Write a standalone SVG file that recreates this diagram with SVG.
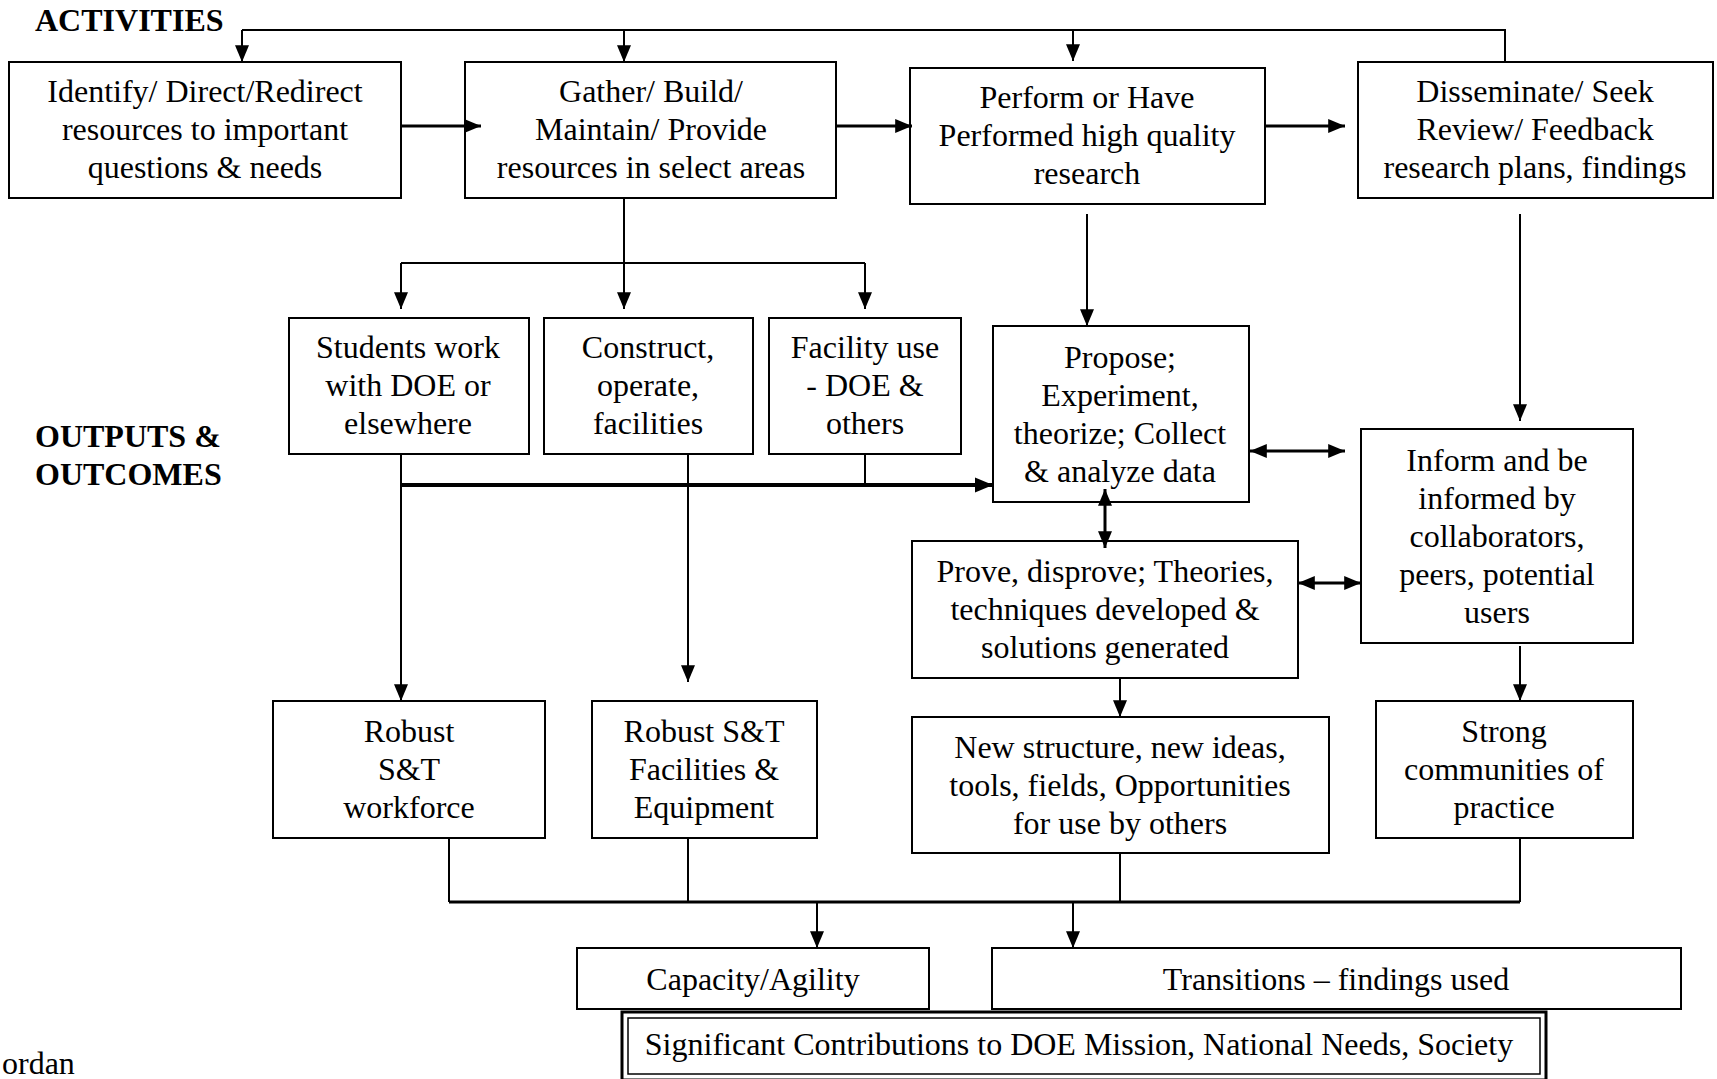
<svg xmlns="http://www.w3.org/2000/svg" width="1717" height="1079" viewBox="0 0 1717 1079">
  <style>
    .box { fill: #fff; stroke: #000; stroke-width: 2; }
    .t { font-family: "Liberation Serif", "Times New Roman", serif; font-size: 32px; fill: #000; text-anchor: middle; }
    .hd { font-family: "Liberation Serif", "Times New Roman", serif; font-size: 32px; font-weight: bold; fill: #000; }
    .ln { fill: none; stroke: #000; stroke-width: 2; }
    .arr { fill: none; stroke: #000; stroke-width: 2; marker-end: url(#ah); }
    .thick { fill: none; stroke: #000; stroke-width: 4; marker-end: url(#ahb); }
    .dbl { fill: none; stroke: #000; stroke-width: 3; marker-start: url(#ah); marker-end: url(#ah); }
  </style>
  <defs>
    <marker id="ah" viewBox="0 0 12 10" refX="12" refY="5" markerWidth="17" markerHeight="14" markerUnits="userSpaceOnUse" orient="auto-start-reverse">
      <path d="M0,0 L12,5 L0,10 z" fill="#000"/>
    </marker>
    <marker id="ahb" viewBox="0 0 12 10" refX="12" refY="5" markerWidth="18" markerHeight="16" markerUnits="userSpaceOnUse" orient="auto">
      <path d="M0,0 L12,5 L0,10 z" fill="#000"/>
    </marker>
  </defs>
  <rect width="1717" height="1079" fill="#fff"/>

  <!-- section headings -->
  <text class="hd" x="35" y="31">ACTIVITIES</text>
  <text class="hd" x="35" y="447">OUTPUTS &amp;</text>
  <text class="hd" x="35" y="485">OUTCOMES</text>
  <text class="t" x="2" y="1074" style="text-anchor:start">ordan</text>

  <!-- activities -->
  <g id="identify">
    <rect class="box" x="9" y="62" width="392" height="136"/>
    <text class="t" x="205" y="102">Identify/ Direct/Redirect</text>
    <text class="t" x="205" y="140">resources to important</text>
    <text class="t" x="205" y="178">questions &amp; needs</text>
  </g>
  <g id="gather">
    <rect class="box" x="465" y="62" width="371" height="136"/>
    <text class="t" x="651" y="102">Gather/ Build/</text>
    <text class="t" x="651" y="140">Maintain/ Provide</text>
    <text class="t" x="651" y="178">resources in select areas</text>
  </g>
  <g id="perform">
    <rect class="box" x="910" y="68" width="355" height="136"/>
    <text class="t" x="1087" y="108">Perform or Have</text>
    <text class="t" x="1087" y="146">Performed high quality</text>
    <text class="t" x="1087" y="184">research</text>
  </g>
  <g id="disseminate">
    <rect class="box" x="1358" y="62" width="355" height="136"/>
    <text class="t" x="1535" y="102">Disseminate/ Seek</text>
    <text class="t" x="1535" y="140">Review/ Feedback</text>
    <text class="t" x="1535" y="178">research plans, findings</text>
  </g>

  <!-- outputs -->
  <g id="students">
    <rect class="box" x="289" y="318" width="240" height="136"/>
    <text class="t" x="408" y="358">Students work</text>
    <text class="t" x="408" y="396">with DOE or</text>
    <text class="t" x="408" y="434">elsewhere</text>
  </g>
  <g id="construct">
    <rect class="box" x="544" y="318" width="209" height="136"/>
    <text class="t" x="648" y="358">Construct,</text>
    <text class="t" x="648" y="396">operate,</text>
    <text class="t" x="648" y="434">facilities</text>
  </g>
  <g id="facility-use">
    <rect class="box" x="769" y="318" width="192" height="136"/>
    <text class="t" x="865" y="358">Facility use</text>
    <text class="t" x="865" y="396">- DOE &amp;</text>
    <text class="t" x="865" y="434">others</text>
  </g>
  <g id="propose">
    <rect class="box" x="993" y="326" width="256" height="176"/>
    <text class="t" x="1120" y="368">Propose;</text>
    <text class="t" x="1120" y="406">Experiment,</text>
    <text class="t" x="1120" y="444">theorize; Collect</text>
    <text class="t" x="1120" y="482">&amp; analyze data</text>
  </g>
  <g id="inform">
    <rect class="box" x="1361" y="429" width="272" height="214"/>
    <text class="t" x="1497" y="471">Inform and be</text>
    <text class="t" x="1497" y="509">informed by</text>
    <text class="t" x="1497" y="547">collaborators,</text>
    <text class="t" x="1497" y="585">peers, potential</text>
    <text class="t" x="1497" y="623">users</text>
  </g>
  <g id="prove">
    <rect class="box" x="912" y="541" width="386" height="137"/>
    <text class="t" x="1105" y="582">Prove, disprove; Theories,</text>
    <text class="t" x="1105" y="620">techniques developed &amp;</text>
    <text class="t" x="1105" y="658">solutions generated</text>
  </g>

  <!-- outcomes -->
  <g id="workforce">
    <rect class="box" x="273" y="701" width="272" height="137"/>
    <text class="t" x="409" y="742">Robust</text>
    <text class="t" x="409" y="780">S&amp;T</text>
    <text class="t" x="409" y="818">workforce</text>
  </g>
  <g id="facilities">
    <rect class="box" x="592" y="701" width="225" height="137"/>
    <text class="t" x="704" y="742">Robust S&amp;T</text>
    <text class="t" x="704" y="780">Facilities &amp;</text>
    <text class="t" x="704" y="818">Equipment</text>
  </g>
  <g id="new-structure">
    <rect class="box" x="912" y="717" width="417" height="136"/>
    <text class="t" x="1120" y="758">New structure, new ideas,</text>
    <text class="t" x="1120" y="796">tools, fields,  Opportunities</text>
    <text class="t" x="1120" y="834">for use by others</text>
  </g>
  <g id="communities">
    <rect class="box" x="1376" y="701" width="257" height="137"/>
    <text class="t" x="1504" y="742">Strong</text>
    <text class="t" x="1504" y="780">communities of</text>
    <text class="t" x="1504" y="818">practice</text>
  </g>
  <g id="capacity">
    <rect class="box" x="577" y="948" width="352" height="61"/>
    <text class="t" x="753" y="990">Capacity/Agility</text>
  </g>
  <g id="transitions">
    <rect class="box" x="992" y="948" width="689" height="61"/>
    <text class="t" x="1336" y="990">Transitions – findings used</text>
  </g>
  <g id="contributions">
    <rect class="box" x="622" y="1012" width="924" height="68" style="stroke-width:3"/>
    <rect class="box" x="628" y="1018" width="912" height="56" style="stroke-width:1.5"/>
    <text class="t" x="1079" y="1055">Significant Contributions to DOE Mission, National Needs, Society</text>
  </g>

  <!-- connectors, drawn over the boxes so heads that reach inside stay visible -->
  <g id="connectors">
    <!-- feedback loop along the top -->
    <path class="ln" d="M242,30 H1505 V62"/>
    <path class="arr" d="M242,30 V62"/>
    <path class="arr" d="M624,30 V62"/>
    <path class="arr" d="M1073,30 V61"/>
    <!-- activity chain -->
    <path class="arr" d="M401,126 H481" style="stroke-width:3"/>
    <path class="arr" d="M836,126 H912" style="stroke-width:3"/>
    <path class="arr" d="M1265,126 H1345" style="stroke-width:3"/>
    <!-- gather fan-out -->
    <path class="ln" d="M624,198 V263"/>
    <path class="ln" d="M401,263 H865"/>
    <path class="arr" d="M401,263 V309"/>
    <path class="arr" d="M624,263 V309"/>
    <path class="arr" d="M865,263 V309"/>
    <!-- research down -->
    <path class="arr" d="M1087,214 V326"/>
    <path class="arr" d="M1520,214 V421"/>
    <!-- outputs feeding research -->
    <path class="ln" d="M865,454 V485"/>
    <path class="thick" d="M401,485 H993"/>
    <path class="arr" d="M401,454 V701"/>
    <path class="arr" d="M688,454 V682"/>
    <!-- research exchanges -->
    <path class="dbl" d="M1105,489 V548"/>
    <path class="dbl" d="M1250,451 H1345"/>
    <path class="dbl" d="M1298,583 H1361"/>
    <path class="arr" d="M1120,679 V717"/>
    <path class="arr" d="M1520,646 V701"/>
    <!-- outcomes merge -->
    <path class="ln" d="M449,839 V902"/>
    <path class="ln" d="M688,839 V902"/>
    <path class="ln" d="M1120,854 V902"/>
    <path class="ln" d="M1520,839 V902"/>
    <path class="ln" d="M449,902 H1520" style="stroke-width:3"/>
    <path class="arr" d="M817,902 V948"/>
    <path class="arr" d="M1073,902 V948"/>
  </g>
</svg>
